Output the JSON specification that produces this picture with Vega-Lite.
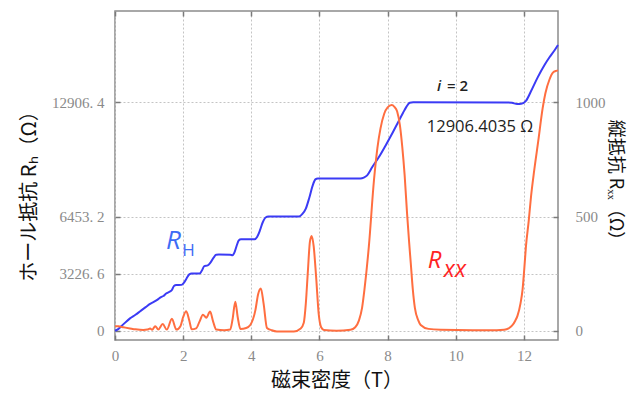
{
  "$schema": "https://vega.github.io/schema/vega-lite/v6.json",
  "width": 443,
  "height": 329,
  "autosize": {"type": "none"},
  "padding": {"left": 115, "top": 11, "right": 74, "bottom": 57},
  "background": "white",
  "config": {
    "view": {"stroke": "#8c8c8c", "strokeWidth": 1.5},
    "axis": {
      "domain": false,
      "tickSize": -5,
      "tickColor": "#7a7a7a",
      "tickWidth": 1.5,
      "labelFont": "Liberation Serif",
      "labelFontSize": 15,
      "labelColor": "#8a8a8a",
      "labelFlush": false,
      "labelOverlap": false,
      "gridColor": "#c4c4c4",
      "gridDash": [2, 2],
      "gridWidth": 1,
      "titleFont": "Noto Sans CJK JP",
      "titleFontSize": 20,
      "titleFontWeight": "normal",
      "titleColor": "#111111"
    }
  },
  "datasets": {
    "rh": [
      {"B": 0.0, "RH": 0}, {"B": 0.05, "RH": 40}, {"B": 0.2, "RH": 280}, {"B": 0.44, "RH": 698},
      {"B": 0.6, "RH": 900}, {"B": 0.74, "RH": 1100}, {"B": 0.9, "RH": 1330}, {"B": 1.03, "RH": 1520},
      {"B": 1.15, "RH": 1640}, {"B": 1.25, "RH": 1760}, {"B": 1.35, "RH": 1900}, {"B": 1.42, "RH": 1960},
      {"B": 1.5, "RH": 2100}, {"B": 1.6, "RH": 2200}, {"B": 1.67, "RH": 2300}, {"B": 1.73, "RH": 2530},
      {"B": 1.8, "RH": 2581}, {"B": 1.95, "RH": 2590}, {"B": 2.02, "RH": 2700}, {"B": 2.1, "RH": 2950},
      {"B": 2.18, "RH": 3180}, {"B": 2.25, "RH": 3226.6}, {"B": 2.48, "RH": 3230}, {"B": 2.55, "RH": 3400},
      {"B": 2.62, "RH": 3650}, {"B": 2.72, "RH": 3690}, {"B": 2.8, "RH": 3850}, {"B": 2.9, "RH": 4150},
      {"B": 2.97, "RH": 4290}, {"B": 3.05, "RH": 4302}, {"B": 3.38, "RH": 4290}, {"B": 3.45, "RH": 4260},
      {"B": 3.5, "RH": 4400}, {"B": 3.57, "RH": 4800}, {"B": 3.63, "RH": 5100}, {"B": 3.7, "RH": 5163},
      {"B": 4.1, "RH": 5170}, {"B": 4.17, "RH": 5300}, {"B": 4.25, "RH": 5650}, {"B": 4.33, "RH": 6100},
      {"B": 4.42, "RH": 6400}, {"B": 4.5, "RH": 6453}, {"B": 5.4, "RH": 6453}, {"B": 5.5, "RH": 6600},
      {"B": 5.6, "RH": 6900}, {"B": 5.7, "RH": 7500}, {"B": 5.8, "RH": 8200}, {"B": 5.88, "RH": 8550},
      {"B": 5.95, "RH": 8604}, {"B": 7.2, "RH": 8604}, {"B": 7.3, "RH": 8650}, {"B": 7.4, "RH": 8780},
      {"B": 7.55, "RH": 9250}, {"B": 7.74, "RH": 9800}, {"B": 7.95, "RH": 10500}, {"B": 8.15, "RH": 11200},
      {"B": 8.3, "RH": 11750}, {"B": 8.45, "RH": 12300}, {"B": 8.55, "RH": 12650}, {"B": 8.65, "RH": 12880},
      {"B": 8.75, "RH": 12906}, {"B": 11.5, "RH": 12900}, {"B": 11.65, "RH": 12880}, {"B": 11.8, "RH": 12810},
      {"B": 11.92, "RH": 12830}, {"B": 12.06, "RH": 12990}, {"B": 12.2, "RH": 13500}, {"B": 12.4, "RH": 14300},
      {"B": 12.6, "RH": 15000}, {"B": 12.75, "RH": 15450}, {"B": 12.9, "RH": 15850}, {"B": 13.0, "RH": 16150}
    ],
    "rxx": [
      {"B": 0, "Rxx": 20}, {"B": 0.1, "Rxx": 19}, {"B": 0.25, "Rxx": 15}, {"B": 0.44, "Rxx": 10},
      {"B": 0.6, "Rxx": 6}, {"B": 0.83, "Rxx": 3}, {"B": 0.95, "Rxx": 5}, {"B": 1.03, "Rxx": 10},
      {"B": 1.09, "Rxx": 4}, {"B": 1.18, "Rxx": 20}, {"B": 1.27, "Rxx": 5}, {"B": 1.4, "Rxx": 29},
      {"B": 1.52, "Rxx": 5}, {"B": 1.67, "Rxx": 52}, {"B": 1.8, "Rxx": 5}, {"B": 1.92, "Rxx": 20},
      {"B": 2.0, "Rxx": 60}, {"B": 2.09, "Rxx": 85}, {"B": 2.18, "Rxx": 45}, {"B": 2.25, "Rxx": 6},
      {"B": 2.38, "Rxx": 10}, {"B": 2.48, "Rxx": 40}, {"B": 2.58, "Rxx": 70}, {"B": 2.68, "Rxx": 57},
      {"B": 2.79, "Rxx": 84}, {"B": 2.88, "Rxx": 40}, {"B": 2.97, "Rxx": 5}, {"B": 3.2, "Rxx": 2},
      {"B": 3.38, "Rxx": 5}, {"B": 3.45, "Rxx": 50}, {"B": 3.53, "Rxx": 127}, {"B": 3.6, "Rxx": 60},
      {"B": 3.68, "Rxx": 8}, {"B": 3.85, "Rxx": 12}, {"B": 3.97, "Rxx": 25}, {"B": 4.12, "Rxx": 90},
      {"B": 4.2, "Rxx": 160}, {"B": 4.28, "Rxx": 185}, {"B": 4.36, "Rxx": 120}, {"B": 4.46, "Rxx": 12},
      {"B": 4.6, "Rxx": 2}, {"B": 4.75, "Rxx": -3}, {"B": 5.25, "Rxx": -3}, {"B": 5.45, "Rxx": 10},
      {"B": 5.54, "Rxx": 35}, {"B": 5.6, "Rxx": 120}, {"B": 5.66, "Rxx": 260}, {"B": 5.72, "Rxx": 390},
      {"B": 5.77, "Rxx": 415}, {"B": 5.83, "Rxx": 370}, {"B": 5.9, "Rxx": 240}, {"B": 5.98, "Rxx": 70},
      {"B": 6.05, "Rxx": 15}, {"B": 6.13, "Rxx": 3}, {"B": 6.5, "Rxx": 0}, {"B": 6.91, "Rxx": 4},
      {"B": 7.05, "Rxx": 15}, {"B": 7.16, "Rxx": 45}, {"B": 7.25, "Rxx": 100}, {"B": 7.32, "Rxx": 180},
      {"B": 7.45, "Rxx": 370}, {"B": 7.6, "Rxx": 660}, {"B": 7.7, "Rxx": 800}, {"B": 7.79, "Rxx": 885},
      {"B": 7.9, "Rxx": 950}, {"B": 8.0, "Rxx": 978}, {"B": 8.12, "Rxx": 988}, {"B": 8.2, "Rxx": 980},
      {"B": 8.28, "Rxx": 960}, {"B": 8.36, "Rxx": 900}, {"B": 8.43, "Rxx": 805}, {"B": 8.5, "Rxx": 680},
      {"B": 8.57, "Rxx": 515}, {"B": 8.63, "Rxx": 390}, {"B": 8.68, "Rxx": 295}, {"B": 8.74, "Rxx": 180},
      {"B": 8.8, "Rxx": 100}, {"B": 8.9, "Rxx": 45}, {"B": 8.97, "Rxx": 25}, {"B": 9.2, "Rxx": 8},
      {"B": 9.56, "Rxx": 4}, {"B": 10.5, "Rxx": 2}, {"B": 11.2, "Rxx": 2}, {"B": 11.42, "Rxx": 4},
      {"B": 11.55, "Rxx": 10}, {"B": 11.65, "Rxx": 22}, {"B": 11.75, "Rxx": 45}, {"B": 11.81, "Rxx": 65},
      {"B": 11.9, "Rxx": 120}, {"B": 11.96, "Rxx": 180}, {"B": 12.01, "Rxx": 270}, {"B": 12.06, "Rxx": 370},
      {"B": 12.14, "Rxx": 480}, {"B": 12.21, "Rxx": 590}, {"B": 12.3, "Rxx": 700}, {"B": 12.42, "Rxx": 830},
      {"B": 12.55, "Rxx": 975}, {"B": 12.63, "Rxx": 1040}, {"B": 12.75, "Rxx": 1100}, {"B": 12.85, "Rxx": 1130},
      {"B": 12.95, "Rxx": 1138}, {"B": 13.0, "Rxx": 1140}
    ]
  },
  "layer": [
    {
      "layer": [
        {
          "data": {"name": "rh"},
          "mark": {"type": "line", "color": "#3b3bf5", "strokeWidth": 2, "interpolate": "monotone"},
          "encoding": {
            "x": {
              "field": "B", "type": "quantitative",
              "scale": {"domain": [0, 13], "nice": false, "zero": false},
              "axis": {
                "orient": "bottom",
                "values": [0, 2, 4, 6, 8, 10, 12],
                "format": "d",
                "labelPadding": 13,
                "grid": true,
                "title": "磁束密度（T）",
                "titlePadding": 7
              }
            },
            "y": {
              "field": "RH", "type": "quantitative",
              "scale": {"domain": [-525, 18066], "nice": false, "zero": false},
              "axis": {
                "orient": "left",
                "values": [0, 3226.6, 6453.2, 12906.4],
                "labelExpr": "datum.value == 0 ? '0' : replace(format(datum.value, '.1f'), '.', '. ')",
                "labelPadding": 16,
                "grid": true,
                "title": "ホール抵抗 Rₕ（Ω）",
                "titlePadding": 12,
                "titleY": 180
              }
            }
          }
        },
        {
          "data": {"values": [{"B": 1.5, "RH": 4617, "t": "R"}]},
          "mark": {"type": "text", "align": "left", "baseline": "alphabetic", "font": "Open Sans", "fontSize": 26, "fontStyle": "italic", "color": "#3d6cf5"},
          "encoding": {"x": {"field": "B", "type": "quantitative"}, "y": {"field": "RH", "type": "quantitative"}, "text": {"field": "t"}}
        },
        {
          "data": {"values": [{"B": 1.97, "RH": 4221, "t": "H"}]},
          "mark": {"type": "text", "align": "left", "baseline": "alphabetic", "font": "Open Sans", "fontSize": 17, "color": "#3d6cf5"},
          "encoding": {"x": {"field": "B", "type": "quantitative"}, "y": {"field": "RH", "type": "quantitative"}, "text": {"field": "t"}}
        },
        {
          "data": {"values": [{"B": 9.18, "RH": 3543, "t": "R"}]},
          "mark": {"type": "text", "align": "left", "baseline": "alphabetic", "font": "Open Sans", "fontSize": 24, "fontStyle": "italic", "color": "#ff2424"},
          "encoding": {"x": {"field": "B", "type": "quantitative"}, "y": {"field": "RH", "type": "quantitative"}, "text": {"field": "t"}}
        },
        {
          "data": {"values": [{"B": 9.65, "RH": 3034, "t": "xx"}]},
          "mark": {"type": "text", "align": "left", "baseline": "alphabetic", "font": "Open Sans", "fontSize": 23, "fontStyle": "italic", "color": "#ff2424"},
          "encoding": {"x": {"field": "B", "type": "quantitative"}, "y": {"field": "RH", "type": "quantitative"}, "text": {"field": "t"}}
        },
        {
          "data": {"values": [{"B": 9.45, "RH": 13562, "t": "i"}]},
          "mark": {"type": "text", "align": "left", "baseline": "alphabetic", "font": "Open Sans", "fontSize": 15, "fontStyle": "italic", "fontWeight": 600, "color": "#222222"},
          "encoding": {"x": {"field": "B", "type": "quantitative"}, "y": {"field": "RH", "type": "quantitative"}, "text": {"field": "t"}}
        },
        {
          "data": {"values": [{"B": 9.74, "RH": 13562, "t": "= 2"}]},
          "mark": {"type": "text", "align": "left", "baseline": "alphabetic", "font": "Open Sans", "fontSize": 15, "fontWeight": 600, "color": "#222222"},
          "encoding": {"x": {"field": "B", "type": "quantitative"}, "y": {"field": "RH", "type": "quantitative"}, "text": {"field": "t"}}
        },
        {
          "data": {"values": [{"B": 9.15, "RH": 11245, "t": "12906.4035 Ω"}]},
          "mark": {"type": "text", "align": "left", "baseline": "alphabetic", "font": "Open Sans", "fontSize": 16.5, "color": "#222222"},
          "encoding": {"x": {"field": "B", "type": "quantitative"}, "y": {"field": "RH", "type": "quantitative"}, "text": {"field": "t"}}
        }
      ]
    },
    {
      "data": {"name": "rxx"},
      "mark": {"type": "line", "color": "#ff6e40", "strokeWidth": 2, "interpolate": "monotone"},
      "encoding": {
        "x": {
          "field": "B", "type": "quantitative",
          "axis": {"orient": "top", "values": [0, 2, 4, 6, 8, 10, 12], "labels": false, "grid": false, "title": null}
        },
        "y": {
          "field": "Rxx", "type": "quantitative",
          "scale": {"domain": [-40.7, 1400], "nice": false, "zero": false},
          "axis": {
            "orient": "right",
            "values": [0, 500, 1000],
            "format": "d",
            "labelPadding": 22,
            "grid": false,
            "title": "縦抵抗 Rₓₓ（Ω）",
            "titleFontSize": 18,
            "titlePadding": 0,
            "titleY": 173
          }
        }
      }
    }
  ],
  "resolve": {"scale": {"y": "independent"}, "axis": {"x": "independent"}}
}
